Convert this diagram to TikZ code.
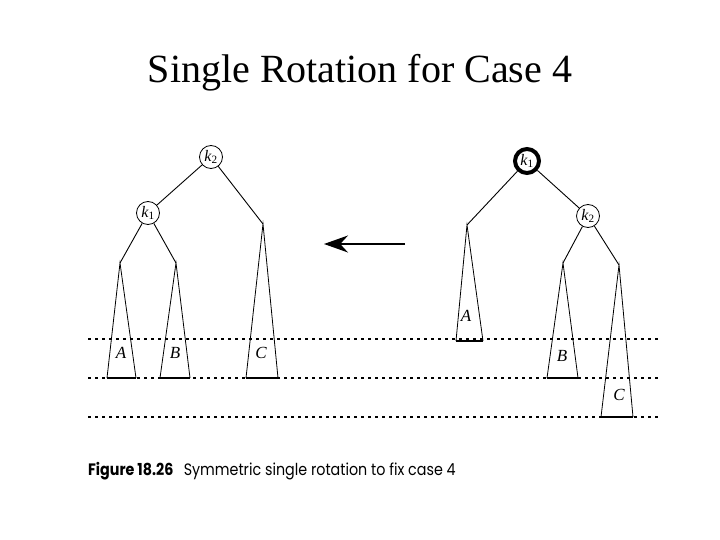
\documentclass[tikz,border=0pt]{standalone}
\usepackage{fontspec}
\setmainfont{Liberation Serif}
\newfontfamily\capfont{Poppins}
\usetikzlibrary{arrows.meta}
\newcommand{\kk}[1]{\textit{k}\textsubscript{#1}}
\begin{document}
\begin{tikzpicture}[x=1pt,y=-1pt,
  knode/.style={circle,draw,line width=0.8pt,minimum size=23pt,inner sep=0pt,font=\fontsize{16}{16}\selectfont},
  tri/.style={draw,line width=0.8pt},
  base/.style={line width=1.8pt},
  edge/.style={line width=0.9pt},
  lvl/.style={line width=1.1pt,dash pattern=on 3pt off 4pt},
  lab/.style={font=\fontsize{17}{17}\selectfont\itshape,inner sep=0pt}]
\useasboundingbox (0,0) rectangle (720,540);
\node[font=\fontsize{40}{40}\selectfont,anchor=base] (title) at (360,83) {Single Rotation for Case 4};
% level lines
\coordinate (l1a) at (88,339); \coordinate (l1b) at (658,339);
\coordinate (l2a) at (88,378); \coordinate (l2b) at (658,378);
\coordinate (l3a) at (88,417); \coordinate (l3b) at (658,417);
\draw[lvl] (l1a) -- (l1b);
\draw[lvl] (l2a) -- (l2b);
\draw[lvl] (l3a) -- (l3b);
% left tree
\node[knode] (Lk2) at (211,157) {\kk{2}};
\node[knode] (Lk1) at (148,213) {\kk{1}};
\coordinate (LAt) at (120,263); \coordinate (LAl) at (107,378); \coordinate (LAr) at (136,378);
\coordinate (LBt) at (176,263); \coordinate (LBl) at (160,378); \coordinate (LBr) at (190,378);
\coordinate (LCt) at (263,224); \coordinate (LCl) at (246,378); \coordinate (LCr) at (278,378);
\draw[edge] (Lk2) -- (Lk1);
\draw[edge] (Lk2) -- (LCt);
\draw[edge] (Lk1) -- (LAt);
\draw[edge] (Lk1) -- (LBt);
\draw[tri] (LAl) -- (LAt) -- (LAr); \draw[base] (LAl) -- (LAr);
\draw[tri] (LBl) -- (LBt) -- (LBr); \draw[base] (LBl) -- (LBr);
\draw[tri] (LCl) -- (LCt) -- (LCr); \draw[base] (LCl) -- (LCr);
\node[lab] (LA) at (121,353) {A};
\node[lab] (LB) at (175,353) {B};
\node[lab] (LC) at (261,353) {C};
% arrow
\coordinate (arS) at (405,244); \coordinate (arE) at (324,244);
\draw[line width=1.8pt,-{Stealth[length=24pt,width=17pt]}] (arS) -- (arE);
% right tree
\node[knode,line width=4pt,minimum size=24pt] (Rk1) at (527,161) {\kk{1}};
\node[knode] (Rk2) at (588,216) {\kk{2}};
\coordinate (RAt) at (467,225); \coordinate (RAl) at (456,341); \coordinate (RAr) at (483,341);
\coordinate (RBt) at (563,263); \coordinate (RBl) at (547,378); \coordinate (RBr) at (578,378);
\coordinate (RCt) at (619,265); \coordinate (RCl) at (601,417); \coordinate (RCr) at (633,417);
\draw[edge] (Rk1) -- (RAt);
\draw[edge] (Rk1) -- (Rk2);
\draw[edge] (Rk2) -- (RBt);
\draw[edge] (Rk2) -- (RCt);
\draw[tri] (RAl) -- (RAt) -- (RAr); \draw[base] (RAl) -- (RAr);
\draw[tri] (RBl) -- (RBt) -- (RBr); \draw[base] (RBl) -- (RBr);
\draw[tri] (RCl) -- (RCt) -- (RCr); \draw[base] (RCl) -- (RCr);
\node[lab] (RA) at (466,316) {A};
\node[lab] (RB) at (562,356) {B};
\node[lab] (RC) at (619,395) {C};
% caption
\node[anchor=base west,inner sep=0pt,font=\capfont\fontsize{16.5}{16.5}\selectfont,xscale=0.866] (cap) at (88,475) {\textbf{Figure 18.26}\hspace{12pt}Symmetric single rotation to fix case 4};
\end{tikzpicture}
\end{document}
